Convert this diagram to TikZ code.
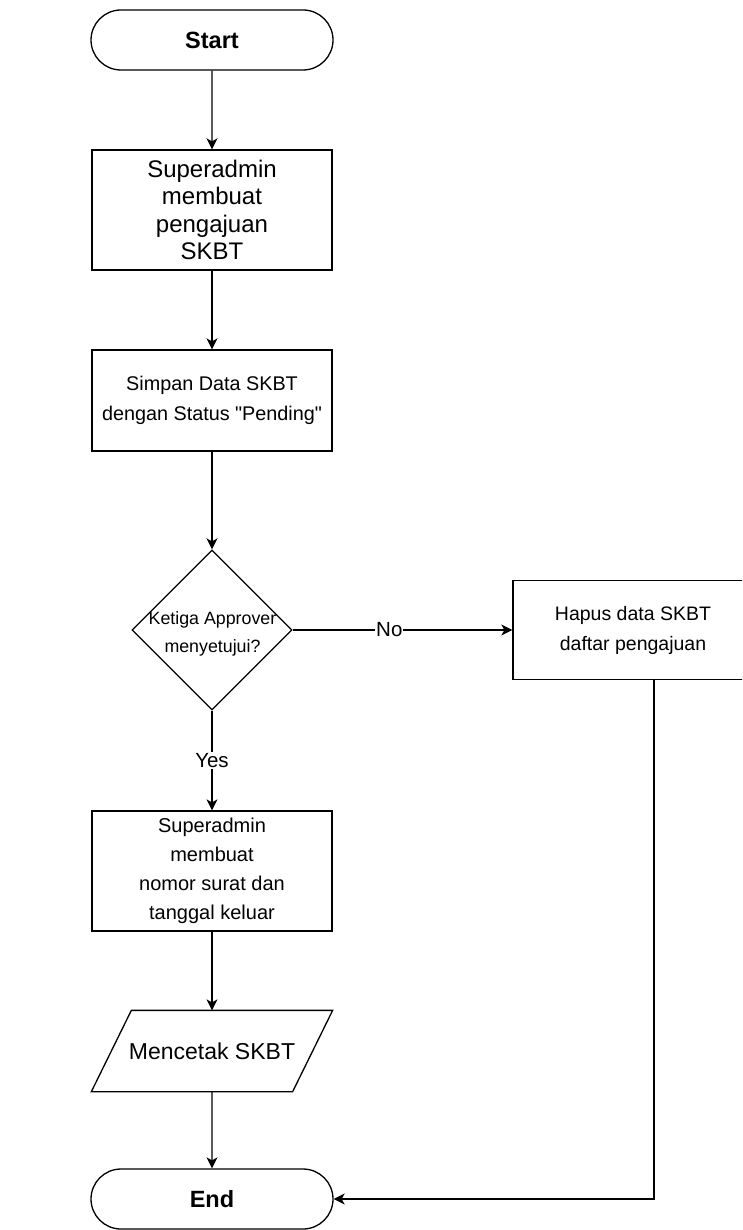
\documentclass[tikz,border=0pt]{standalone}
\usepackage{fontspec}
\setmainfont{Liberation Sans}[Ligatures=TeXOff]
\usetikzlibrary{arrows.meta,shapes.geometric,shapes.misc}
\begin{document}
\begin{tikzpicture}[x=1pt,y=-1pt,
  line width=1.3pt,
  terminal/.style={draw, rounded rectangle, minimum width=242pt, minimum height=60pt,
    inner sep=0pt, font=\fontsize{23.5}{27}\selectfont\bfseries},
  procbox/.style={draw, rectangle, minimum width=240pt, inner sep=0pt, align=center},
  flow/.style={-{Stealth[length=11pt,width=11pt,inset=3pt]}},
  edgelabel/.style={fill=white, inner sep=1pt, font=\fontsize{20.5}{24}\selectfont}
]
\useasboundingbox (0,0) rectangle (742,1230);

% start / end terminals
\node[terminal] (start) at (212,40) {Start};
\node[terminal] (finish) at (212,1199) {End};

% process steps
\node[procbox, minimum height=120pt, font=\fontsize{24}{27.5}\selectfont]
  (create) at (212,210) {Superadmin\\membuat\\pengajuan\\SKBT};
\node[procbox, minimum height=101pt, font=\fontsize{19.8}{30}\selectfont]
  (save) at (212,400.5) {Simpan Data SKBT\\dengan Status "Pending"};

% decision
\node[draw, diamond, minimum width=160pt, minimum height=160pt, inner sep=0pt]
  (decide) at (212,630) {};
\node[font=\fontsize{17.8}{28}\selectfont, align=center, inner sep=0pt]
  (decidetext) at (212.5,634) {Ketiga Approver\\menyetujui?};

% rejected branch (box runs past the right edge)
\begin{scope}
  \clip (0,0) rectangle (742,1230);
  \node[procbox, minimum height=99pt, font=\fontsize{19.5}{30}\selectfont]
    (remove) at (633,630) {Hapus data SKBT\\daftar pengajuan};
\end{scope}

% approved branch
\node[procbox, minimum height=120pt, font=\fontsize{20}{29}\selectfont]
  (number) at (212,871) {Superadmin\\membuat\\nomor surat dan\\tanggal keluar};

% output step (parallelogram)
\node[minimum width=200pt, minimum height=80pt, inner sep=0pt,
  font=\fontsize{23}{27}\selectfont] (print) at (212,1051) {Mencetak SKBT};
\draw ([xshift=-20pt]print.south west) -- ([xshift=20pt]print.north west)
  -- ([xshift=20pt]print.north east) -- ([xshift=-20pt]print.south east) -- cycle;

% connectors
\draw[flow] (start) -- (create);
\draw[flow] (create) -- (save);
\draw[flow] (save) -- (decide);
\draw[flow] (decide.east) -- node[edgelabel, pos=0.44] {No} (remove.west);
\draw[flow] (decide.south) -- node[edgelabel, pos=0.5] {Yes} (number.north);
\draw[flow] (number) -- (print.north);
\draw[flow] (print.south) -- (finish);
\draw[flow] ([xshift=21pt]remove.south) |- (finish.east);
\end{tikzpicture}
\end{document}
